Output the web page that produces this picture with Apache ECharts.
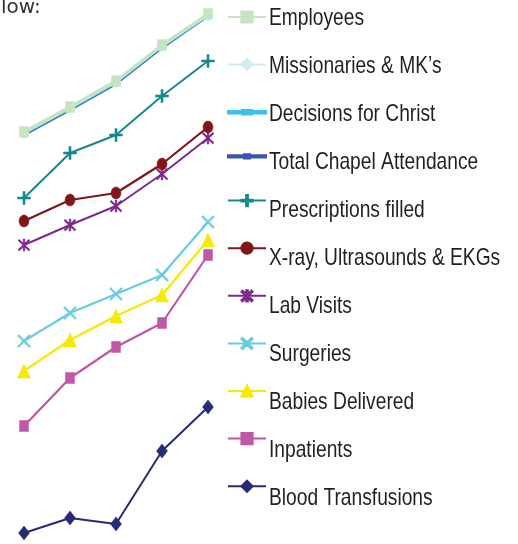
<!DOCTYPE html>
<html><head><meta charset="utf-8">
<script src="https://cdn.jsdelivr.net/npm/echarts@6/dist/echarts.min.js"></script>
<style>html,body{margin:0;padding:0;background:#fff}#c{width:518px;height:544px}</style>
</head><body><div id="c"></div>
<script>
const categories = ['1', '2', '3', '4', '5'];
const seriesNames = ['Employees', 'Missionaries & MK\u2019s', 'Decisions for Christ', 'Total Chapel Attendance',
  'Prescriptions filled', 'X-ray, Ultrasounds & EKGs', 'Lab Visits', 'Surgeries', 'Babies Delivered',
  'Inpatients', 'Blood Transfusions'];
const employees = [412, 437, 463, 499, 530];
const missionaries = [411, 436, 462, 498, 529];
const decisions = [410, 435, 461, 497, 528];
const chapel = [409, 434, 460, 496, 528];
const prescriptions = [346, 391, 409, 448, 483];
const xray = [323, 344, 351, 380, 417];
const lab = [299, 319, 338, 370, 406];
const surgeries = [203, 231, 250, 269, 322];
const babies = [173, 204, 228, 249, 304];
const inpatients = [118, 166, 197, 221, 289];
const blood = [11, 26, 20, 93, 137];

const plus = 'path://M4.2,0h1.6v10h-1.6zM0,4.2h10v1.6h-10z';
const aster = 'path://M4.3,0h1.4v10h-1.4zM0.2,1.3l1,-1l8.6,8.6l-1,1zM8.8,0.3l1,1l-8.6,8.6l-1,-1z';
const cross = 'path://M0.2,1.2l1,-1l8.6,8.6l-1,1zM8.8,0.2l1,1l-8.6,8.6l-1,-1z';

const styles = [
  {data: employees, color: '#c6e4c1', symbol: 'rect', size: [9, 11], w: 3.2, z: 20},
  {data: missionaries, color: '#d3ebf3', symbol: 'diamond', size: [10, 12], w: 2.2, z: 19},
  {data: decisions, color: '#3cc0ee', symbol: 'rect', size: [8, 3], w: 2.2, z: 18,
    icon: 'path://M0,6h38v2.4h-38zM14,5h10v4.4h-10z'},
  {data: chapel, color: '#3557ad', symbol: 'rect', size: [6, 3], w: 2.2, z: 17,
    icon: 'path://M0,6h38v2.4h-38zM16,5h6v4.4h-6z'},
  {data: prescriptions, color: '#16898a', symbol: plus, size: [13, 13], w: 2, z: 16},
  {data: xray, color: '#80161b', symbol: 'circle', size: [10, 12], w: 2.2, z: 15},
  {data: lab, color: '#7e2a8c', symbol: aster, size: [12, 12], w: 2, z: 14},
  {data: surgeries, color: '#6bcbdf', symbol: cross, size: [13, 13], w: 2.2, z: 13},
  {data: babies, color: '#f4eb00', symbol: 'triangle', size: [13, 14], w: 2.2, z: 12},
  {data: inpatients, color: '#c056a6', symbol: 'rect', size: [9, 11], w: 2.2, z: 11},
  {data: blood, color: '#262b74', symbol: 'diamond', size: [11, 14], w: 2, z: 10}
];

const legendTexts = seriesNames.map((n, i) => ({
  type: 'text', x: 269, y: 18.5 + 48 * i, scaleX: 0.8,
  style: {text: n, x: 0, y: 0, verticalAlign: 'middle', align: 'left',
    font: '24px "Liberation Sans", Arial, sans-serif', fill: '#231f20'}
}));

const chart = echarts.init(document.getElementById('c'));
chart.setOption({
  animation: false,
  grid: {left: 24, width: 184, top: 0, height: 544},
  xAxis: {type: 'category', data: categories, boundaryGap: false, show: false},
  yAxis: {type: 'value', min: 0, max: 544, show: false},
  legend: {
    orient: 'vertical', left: 227, top: 10, padding: 0, itemWidth: 38, itemHeight: 14, itemGap: 34,
    formatter: () => '', selectedMode: false,
    textStyle: {fontSize: 1, padding: 0},
    data: seriesNames.map((n, i) => styles[i].icon ? {name: n, icon: styles[i].icon} : n)
  },
  graphic: [{type: 'text', left: 1, top: -2, style: {text: 'low:', font: '20px "DejaVu Sans", sans-serif', fill: '#333'}}].concat(legendTexts),
  series: styles.map((s, i) => ({
    name: seriesNames[i], type: 'line', data: s.data, z: s.z,
    symbol: s.symbol, symbolSize: s.size, showAllSymbol: true,
    lineStyle: {color: s.color, width: s.w},
    itemStyle: {color: s.color, borderColor: s.color, borderWidth: 0.5, opacity: 1},
    emphasis: {disabled: true}
  }))
});
</script></body></html>
